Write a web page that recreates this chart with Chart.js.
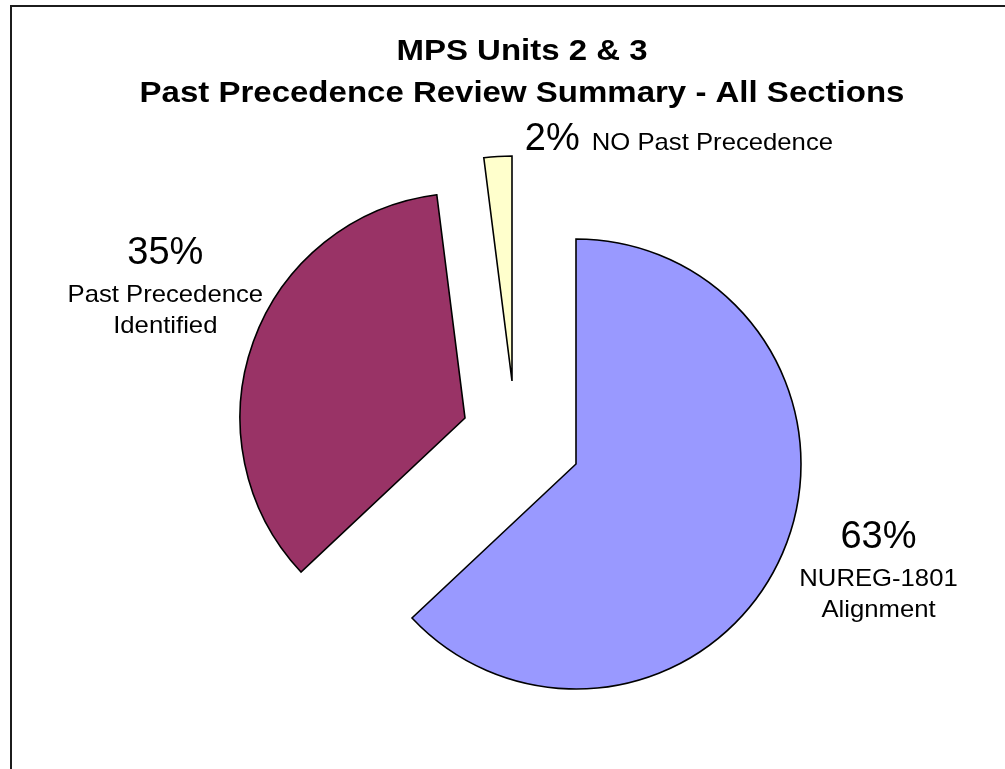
<!DOCTYPE html>
<html>
<head>
<meta charset="utf-8">
<title>MPS Units 2 &amp; 3 - Past Precedence Review Summary</title>
<script src="https://cdn.jsdelivr.net/npm/chart.js@4/dist/chart.umd.min.js"></script>
<style>
    html, body { margin: 0; padding: 0; background: #fff; overflow: hidden; }
    #wrap { position: relative; width: 1005px; height: 769px; }
    #frame {
        position: absolute; left: 10px; top: 5px;
        width: 1100px; height: 900px;
        border-left: 2px solid #1c1c1c; border-top: 2px solid #1c1c1c;
    }
    #pie { position: absolute; left: 0; top: 0; }
</style>
</head>
<body>
<div id="wrap">
    <div id="frame"></div>
    <canvas id="pie" width="1005" height="769"></canvas>
</div>
<script>
// Review results, in drawing order (clockwise from 12 o'clock)
const categories = [
    ['NUREG-1801', 'Alignment'],
    ['Past Precedence', 'Identified'],
    ['NO Past Precedence']
];
const shares = [63, 35, 2];
const titleLines = ['MPS Units 2 & 3', 'Past Precedence Review Summary - All Sections'];

const sliceColors = ['#9999FF', '#993366', '#FFFFCC'];
// pulled-out slices: pixel shift of each wedge's apex
const explode = [[0, 0], [-111, -46], [-64, -83]];
// where each label block sits, relative to the middle of the slice's rim
const labelNudge = [[96, -5], [-88, -78], [27, -6]];

const FONT = "'Liberation Sans', Arial, Helvetica, sans-serif";
const PCT_FONT = `38px ${FONT}`;
const NAME_FONT = `24px ${FONT}`;
const STRETCH = 1.07;

document.addEventListener('DOMContentLoaded', () => {
    const total = shares.reduce((a, b) => a + b, 0);

    const stretchedText = (ctx, text, x, y, align, font, sx) => {
        ctx.save();
        ctx.font = font;
        ctx.textAlign = align;
        ctx.textBaseline = 'alphabetic';
        ctx.fillStyle = '#000';
        ctx.translate(x, y);
        ctx.scale(sx, 1);
        ctx.fillText(text, 0, 0);
        ctx.restore();
    };

    const explodePlugin = {
        id: 'explodeSlices',
        afterDatasetsUpdate(chart) {
            chart.getDatasetMeta(0).data.forEach((arc, i) => {
                arc.x += explode[i][0];
                arc.y += explode[i][1];
            });
        }
    };

    const textPlugin = {
        id: 'pieText',
        afterDraw(chart) {
            const ctx = chart.ctx;

            // two-line bold title
            stretchedText(ctx, titleLines[0], 522, 60, 'center', `bold 30px ${FONT}`, 1.1);
            stretchedText(ctx, titleLines[1], 522, 102, 'center', `bold 30px ${FONT}`, 1.1);

            chart.getDatasetMeta(0).data.forEach((arc, i) => {
                const { x, y, startAngle, endAngle, outerRadius } = arc.getProps(['x', 'y', 'startAngle', 'endAngle', 'outerRadius'], true);
                const mid = (startAngle + endAngle) / 2;
                const ax = x + Math.cos(mid) * outerRadius + labelNudge[i][0];
                const ay = y + Math.sin(mid) * outerRadius + labelNudge[i][1];
                const pct = Math.round(shares[i] / total * 100) + '%';
                const lines = chart.data.labels[i];

                if (lines.length === 1) {
                    // thin slice: percentage and name on one line
                    ctx.save();
                    ctx.font = PCT_FONT;
                    const w = ctx.measureText(pct).width + 12;
                    ctx.restore();
                    stretchedText(ctx, pct, ax, ay, 'left', PCT_FONT, 1);
                    stretchedText(ctx, lines[0], ax + w, ay, 'left', NAME_FONT, STRETCH);
                } else {
                    stretchedText(ctx, pct, ax, ay, 'center', PCT_FONT, 1);
                    lines.forEach((line, k) => {
                        stretchedText(ctx, line, ax, ay + 38 + k * 31, 'center', NAME_FONT, STRETCH);
                    });
                }
            });
        }
    };

    new Chart(document.getElementById('pie'), {
        type: 'pie',
        data: {
            labels: categories,
            datasets: [{
                data: shares,
                backgroundColor: sliceColors,
                borderColor: '#000',
                borderWidth: 1.6,
                borderJoinStyle: 'miter'
            }]
        },
        options: {
            responsive: false,
            animation: false,
            radius: 225,
            layout: { padding: { left: 147, right: 0, top: 159, bottom: 0 } },
            plugins: {
                legend: { display: false },
                title: { display: false },
                tooltip: { enabled: false }
            },
            events: []
        },
        plugins: [explodePlugin, textPlugin]
    });
});
</script>
</body>
</html>
